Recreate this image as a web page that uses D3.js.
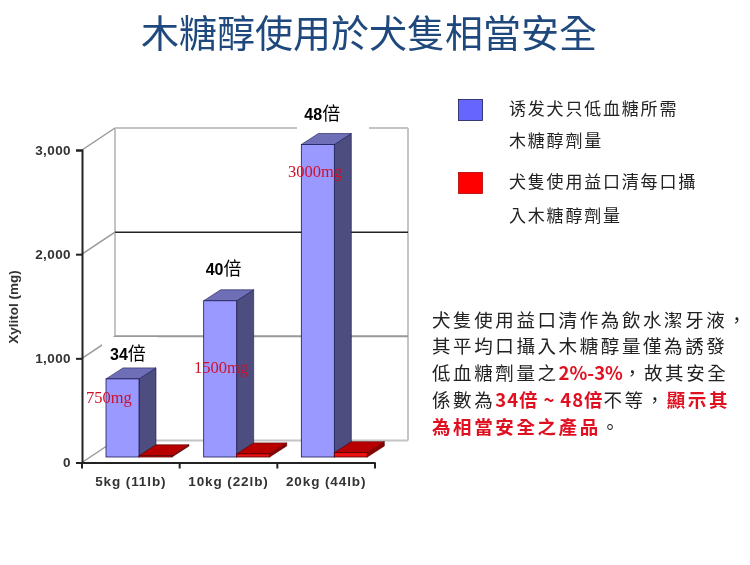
<!DOCTYPE html>
<html>
<head>
<meta charset="utf-8">
<script src="https://cdn.jsdelivr.net/npm/d3@7"></script>
<style>
  body { margin: 0; background: #fff; }
  svg { display: block; filter: blur(0.3px); }
  text { font-family: "Noto Sans CJK TC", sans-serif; }
  .latin { font-family: "Liberation Sans", sans-serif; font-weight: bold; }
</style>
</head>
<body>
<div id="chart"></div>
<script>
// values
const categories = ["5kg (11lb)", "10kg (22lb)", "20kg (44lb)"];
const inducing = [750, 1500, 3000];
const mouthwash = [12, 30, 42];
const yTicks = [0, 1000, 2000, 3000];
const multiples = ["34", "40", "48"];
const doseLabels = ["750mg", "1500mg", "3000mg"];

const title = "木糖醇使用於犬隻相當安全";
const legendBlue = ["诱发犬只低血糖所需", "木糖醇劑量"];
const legendRed = ["犬隻使用益口清每口攝", "入木糖醇劑量"];

// n = normal, r = red, p = red bold percent, b = red bold multiples
const paragraph = [
    [["n", "犬隻使用益口清作為飲水潔牙液，"]],
    [["n", "其平均口攝入木糖醇量僅為誘發"]],
    [["n", "低血糖劑量之"], ["p", "2%-3%"], ["n", "，故其安全"]],
    [["n", "係數為"], ["b", "34倍 ~ 48倍"], ["n", "不等，"], ["r", "顯示其"]],
    [["r", "為相當安全之產品"], ["n", "。"]]
];

let width = 750;
let height = 565;

let svg = d3.select("#chart")
    .append("svg")
    .attr("width", width)
    .attr("height", height);

// title
svg.append("text")
    .attr("x", 141)
    .attr("y", 47)
    .attr("font-size", 38)
    .attr("fill", "#1f497d")
    .text(title);

// scales
let y = d3.scaleLinear().domain([0, 3000]).range([462.5, 150]);
let x0 = d3.scaleBand().domain(categories).range([82, 375]);
let x1 = d3.scaleBand().domain(["blue", "red"]).range([24, 90]);

// pseudo 3d offsets
let wall = { dx: 33, dy: -22, right: 408 };
let floor = { dx: 0, dy: -5.5 };
let bar = { dx: 17, dy: -11 };

// walls
let wallColor = d => d === 2000 ? "#222" : d === 1000 ? "#999" : "#c4c4c4";

svg.append("line")
    .attr("x1", 82 + wall.dx).attr("x2", 82 + wall.dx)
    .attr("y1", y(3000) + wall.dy).attr("y2", y(0) + wall.dy)
    .attr("stroke", "#c4c4c4").attr("stroke-width", 2);
svg.append("line")
    .attr("x1", wall.right).attr("x2", wall.right)
    .attr("y1", y(3000) + wall.dy).attr("y2", y(0) + wall.dy)
    .attr("stroke", "#c4c4c4").attr("stroke-width", 2);

yTicks.forEach(d => {
    svg.append("line")
        .attr("x1", 82 + wall.dx).attr("x2", wall.right)
        .attr("y1", y(d) + wall.dy).attr("y2", y(d) + wall.dy)
        .attr("stroke", wallColor(d))
        .attr("stroke-width", d === 2000 ? 1.5 : 2);
    svg.append("line")
        .attr("x1", 82).attr("x2", 82 + wall.dx)
        .attr("y1", y(d)).attr("y2", y(d) + wall.dy)
        .attr("stroke", "#999").attr("stroke-width", 1.5);
});

// white boxes behind the multiples
svg.append("rect").attr("x", 297).attr("y", 100).attr("width", 72).attr("height", 32).attr("fill", "#fff");
svg.append("rect").attr("x", 102).attr("y", 337).attr("width", 56).attr("height", 38).attr("fill", "#fff");

// bars
function drawBars(values, key, front, top, side) {
    let g = svg.append("g");
    values.forEach((v, i) => {
        let left = x0(categories[i]) + x1(key);
        let right = left + x1.bandwidth();
        let base = y(0) + floor.dy;
        let tip = y(v) + floor.dy;
        let stroke = key === "blue" ? "#1a1a50" : "#500000";

        g.append("polygon")
            .attr("points", [[right, base], [right + bar.dx, base + bar.dy], [right + bar.dx, tip + bar.dy], [right, tip]].join(" "))
            .attr("fill", side).attr("stroke", stroke).attr("stroke-width", 0.6);
        g.append("polygon")
            .attr("points", [[left, tip], [left + bar.dx, tip + bar.dy], [right + bar.dx, tip + bar.dy], [right, tip]].join(" "))
            .attr("fill", top).attr("stroke", stroke).attr("stroke-width", 0.6);
        g.append("rect")
            .attr("x", left).attr("y", tip)
            .attr("width", x1.bandwidth()).attr("height", base - tip)
            .attr("fill", front).attr("stroke", stroke).attr("stroke-width", 0.8);
    });
}
drawBars(inducing, "blue", "#9999ff", "#6f6fb8", "#4d4d80");
drawBars(mouthwash, "red", "#ee1111", "#b80000", "#8c0000");

// axes
let yAxis = svg.append("g")
    .attr("transform", "translate(82,0)")
    .call(d3.axisLeft(y).tickValues(yTicks).tickFormat(d3.format(",")).tickSizeOuter(0).tickSize(6));
let xAxis = svg.append("g")
    .attr("transform", "translate(0," + y(0) + ")")
    .call(d3.axisBottom(x0).tickSize(0).tickPadding(14));

[yAxis, xAxis].forEach(a => {
    a.selectAll("path, line").attr("stroke", "#222").attr("stroke-width", 2);
    a.selectAll("text")
        .attr("class", "latin")
        .attr("fill", "#333");
});
yAxis.selectAll("text").attr("font-size", 13.5).attr("dx", -2).style("letter-spacing", "0.4px");
xAxis.selectAll("text").attr("font-size", 13.5).style("letter-spacing", "0.9px");

// separators between the categories
x0.domain().concat("end").forEach((c, i) => {
    let xPos = 82 + i * x0.step();
    svg.append("line")
        .attr("x1", xPos).attr("x2", xPos)
        .attr("y1", y(0)).attr("y2", y(0) + 6)
        .attr("stroke", "#222").attr("stroke-width", 2);
});

svg.append("text")
    .attr("class", "latin")
    .attr("transform", "translate(18,307) rotate(-90)")
    .attr("text-anchor", "middle")
    .attr("font-size", 13.5)
    .attr("fill", "#333")
    .text("Xylitol (mg)");

// multiples above the bars
multiples.forEach((m, i) => {
    let left = x0(categories[i]) + x1("blue");
    let t = svg.append("text")
        .attr("x", left + [4, 2, 3][i])
        .attr("y", y(inducing[i]) + [-24, -31, -30][i])
        .attr("font-size", 18)
        .attr("fill", "#000");
    t.append("tspan").attr("class", "latin").attr("font-size", 16).text(m);
    t.append("tspan").text("倍");
});

// dose labels
doseLabels.forEach((l, i) => {
    svg.append("text")
        .attr("x", [86, 194, 288][i])
        .attr("y", y(inducing[i]) + [19, 67, 27][i])
        .attr("font-size", 16.5)
        .style("font-family", "'Liberation Serif', serif")
        .attr("fill", "#d0102a")
        .text(l);
});

// legend
function legendRow(color, lines, yTop, baselines) {
    svg.append("rect")
        .attr("x", 458.5).attr("y", yTop)
        .attr("width", 24).attr("height", 21)
        .attr("fill", color)
        .attr("stroke", color === "#6666ff" ? "#1a1a50" : "#b00000")
        .attr("stroke-width", 0.8);
    lines.forEach((l, i) => {
        svg.append("text")
            .attr("x", 509).attr("y", baselines[i])
            .attr("font-size", 17)
            .style("letter-spacing", "1.8px")
            .attr("fill", "#222")
            .text(l);
    });
}
legendRow("#6666ff", legendBlue, 99.5, [115, 147]);
legendRow("#ff0000", legendRed, 172.5, [188, 222]);

// paragraph
let baselines = [326.5, 353.3, 380.1, 406.9, 433.7];
let runSpacing = { n: "2.6px", r: "2.6px", p: "0px", b: "0.9px" };
paragraph.forEach((runs, i) => {
    let t = svg.append("text")
        .attr("x", 432).attr("y", baselines[i])
        .attr("font-size", 18.5);
    runs.forEach(r => {
        let span = t.append("tspan").text(r[1]);
        span.attr("fill", r[0] === "n" ? "#222" : "#e01020")
            .style("letter-spacing", runSpacing[r[0]]);
        if (r[0] !== "n") span.attr("font-weight", "bold");
    });
});
</script>
</body>
</html>
